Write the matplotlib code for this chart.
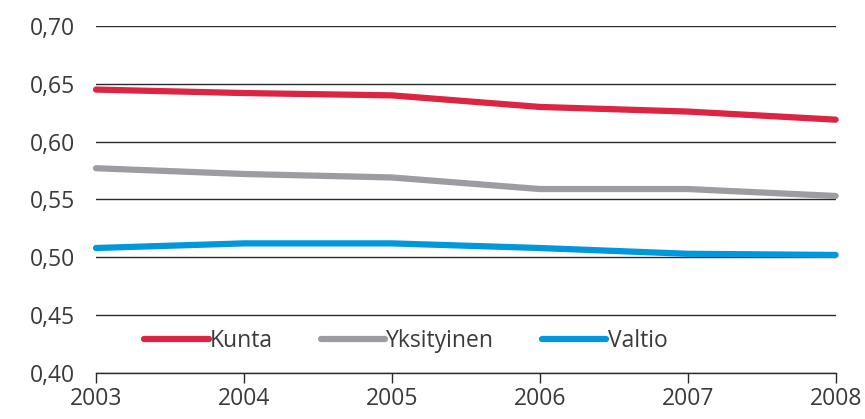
import matplotlib.pyplot as plt
import numpy as np

# --- data ---
YEARS = [2003, 2004, 2005, 2006, 2007, 2008]
KUNTA = [0.645, 0.642, 0.640, 0.630, 0.626, 0.619]
YKSITYINEN = [0.577, 0.572, 0.569, 0.559, 0.559, 0.553]
VALTIO = [0.508, 0.512, 0.512, 0.508, 0.503, 0.502]
SERIES = ["Kunta", "Yksityinen", "Valtio"]
COLORS = ["#dc2443", "#9d9ca1", "#0098dc"]
Y_TICKS = [0.40, 0.45, 0.50, 0.55, 0.60, 0.65, 0.70]

plt.rcParams['font.family'] = ['Open Sans', 'DejaVu Sans']
FS = 16.5

fig = plt.figure(figsize=(8.65, 4.19), dpi=100)
ax = fig.add_axes([0.111, 0.110, 0.855, 0.828])

for name, vals, col in zip(SERIES, [KUNTA, YKSITYINEN, VALTIO], COLORS):
    ax.plot(YEARS, vals, color=col, lw=4.5, solid_capstyle='round',
            solid_joinstyle='round', label=name, clip_on=False, zorder=3)

ax.set_xlim(2003, 2008)
ax.set_ylim(0.40, 0.70)
ax.set_yticks(Y_TICKS)
ax.set_yticklabels([f"{v:.2f}".replace(".", ",") for v in Y_TICKS])
ax.set_xticks(YEARS)
ax.set_xticklabels([str(y) for y in YEARS])

ax.grid(axis='y', color='#2a2a2a', lw=1.0)
ax.set_axisbelow(True)
for s in ['left', 'right', 'top']:
    ax.spines[s].set_visible(False)
ax.spines['bottom'].set_color('#2a2a2a')
ax.spines['bottom'].set_linewidth(1.0)

ax.tick_params(axis='y', length=0, pad=15, labelsize=FS, labelcolor='#3a3a3a')
ax.tick_params(axis='x', length=7, width=1.0, color='#2a2a2a', pad=3,
               labelsize=FS, labelcolor='#3a3a3a', direction='out')

leg = ax.legend(loc='center left', bbox_to_anchor=(0.05, 0.092), ncol=3,
                frameon=False, fontsize=FS, handlelength=2.8,
                handletextpad=0.05, columnspacing=2.1, borderpad=0)
for t in leg.get_texts():
    t.set_color('#3a3a3a')

plt.savefig("out.png", dpi=100)
